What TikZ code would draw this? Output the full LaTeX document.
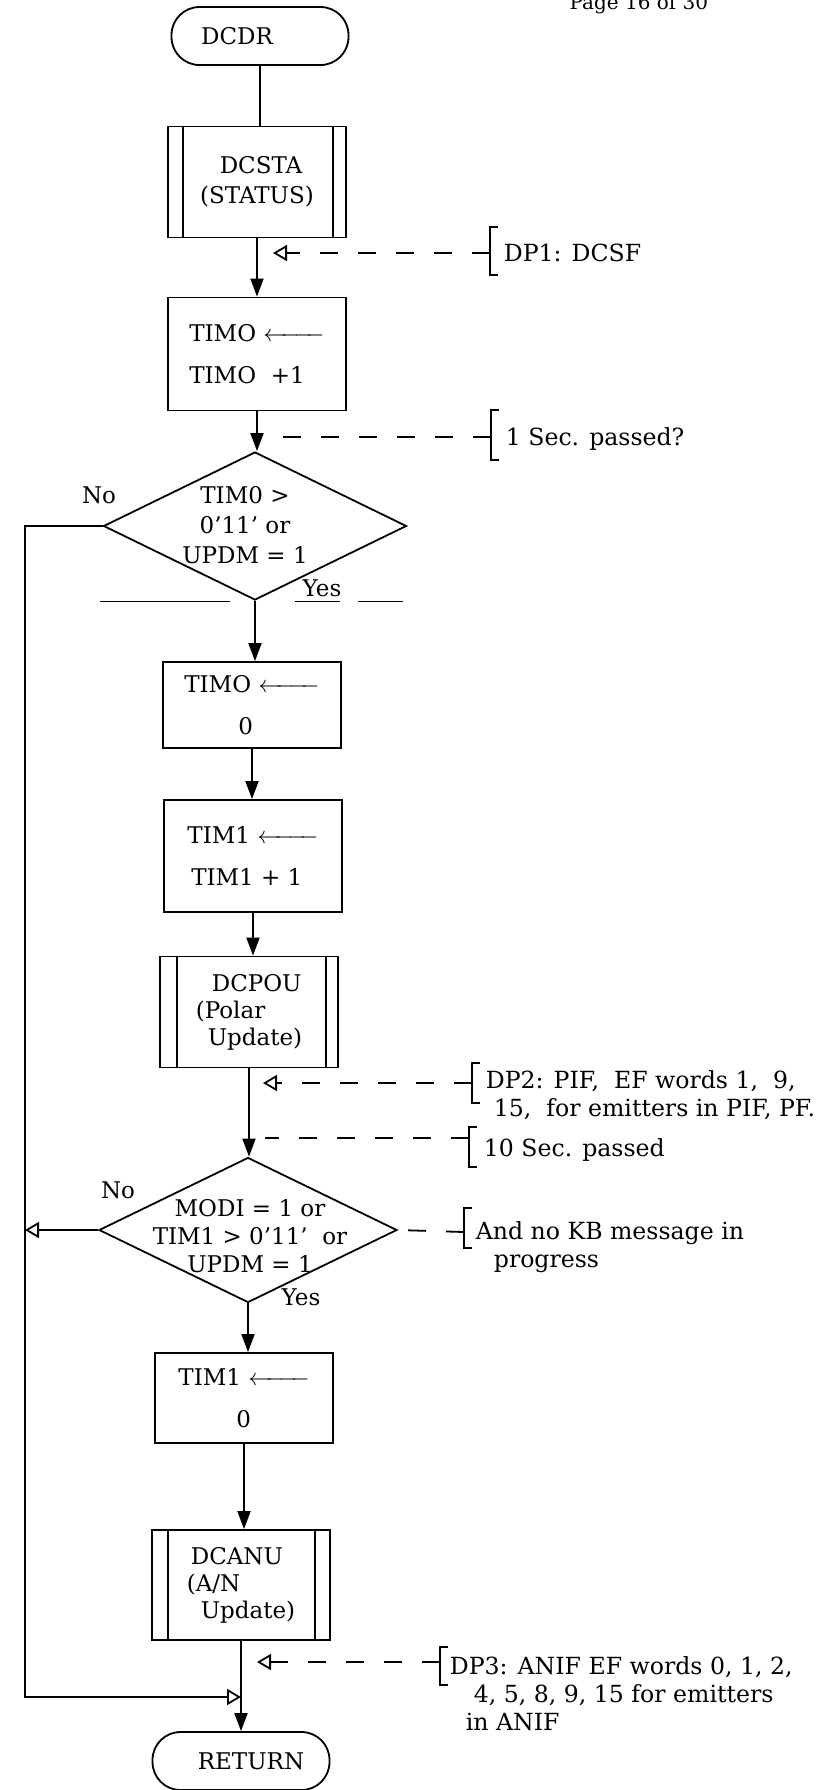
\documentclass[tikz,border=0pt]{standalone}
\usepackage{mathtools}
\usepackage{fontspec}
\setmainfont{DejaVu Serif}
\usetikzlibrary{
    arrows.meta,
    shapes.geometric,
    calc
}
\tikzset{term/.style={draw, rounded corners=14pt, minimum width=88.5pt, minimum height=29pt, inner sep=0pt}}
\tikzset{proc/.style={draw, minimum width=89pt, inner sep=0pt, align=left}}
\tikzset{decis/.style={draw, diamond, inner sep=0pt}}
\tikzset{note/.style={anchor=base west, align=left, inner sep=0pt, font=\fontsize{11.8}{14}\selectfont}}
\tikzset{flow/.style={-{Triangle[length=9pt, width=6.5pt]}}}
\tikzset{hollow/.style={-{Triangle[open, length=7pt, width=8pt]}}}
\tikzset{dpline/.style={dash pattern=on 9pt off 10pt}}

\begin{document}
\begin{tikzpicture}[x=0.5pt, y=-0.5pt, line width=0.9pt, font=\fontsize{11.5}{15}\selectfont]
                        \useasboundingbox (0,0) rectangle (836,1790);

                        \node[anchor=base west, font=\fontsize{10}{12}\selectfont] (page) at (562,9) {Page 16 of 30};

                        % main column
                        \node[term] (start) at (260,36) {DCDR\hspace*{23pt}};
                        \node[proc, align=center, minimum height=55.5pt] (sta) at (257,182) {\hspace*{4pt}DCSTA\\(STATUS)};
                        \node[proc, minimum height=56.5pt] (inc0) at (257,354) {TIMO $\xleftarrow{\hspace{24pt}}$\\[6pt]TIMO\ \ +1};
                        \node[decis, minimum width=151.5pt, minimum height=74pt] (d1) at (255,526) {};
                        \node[align=center] (d1t) at (245,525) {TIM0 >\\0'11' or\\UPDM = 1};
                        \node[proc, minimum height=43pt] (clr0) at (252,705) {TIMO $\xleftarrow{\hspace{24pt}}$\\[6pt]\hspace*{27pt}0};
                        \node[proc, minimum height=56pt] (inc1) at (253,856) {TIM1 $\xleftarrow{\hspace{24pt}}$\\[6pt]\,TIM1 + 1};
                        \node[proc, minimum height=55.5pt, font=\fontsize{11.5}{13.5}\selectfont] (pou) at (249,1012) {\hspace*{8pt}DCPOU\\(Polar\\\hspace*{6pt}Update)};
                        \node[decis, minimum width=149pt, minimum height=72.5pt] (d2) at (248,1230) {};
                        \node[align=center, font=\fontsize{11.5}{14}\selectfont] (d2t) at (250,1236) {MODI = 1 or\\TIM1 > 0'11'\ \ or\\UPDM = 1};
                        \node[proc, minimum height=45pt] (clr1) at (244,1398) {TIM1 $\xleftarrow{\hspace{24pt}}$\\[6pt]\hspace*{29pt}0};
                        \node[proc, minimum height=55pt, font=\fontsize{11.5}{13.5}\selectfont] (anu) at (241,1585) {\hspace*{2pt}DCANU\\(A/N\\\hspace*{7pt}Update)};
                        \node[term] (ret) at (241,1761) {\hspace*{10pt}RETURN};

                        % subroutine bars
                        \draw ([xshift=8pt]sta.north west) -- ([xshift=8pt]sta.south west);
                        \draw ([xshift=-7pt]sta.north east) -- ([xshift=-7pt]sta.south east);
                        \draw ([xshift=9pt]pou.north west) -- ([xshift=9pt]pou.south west);
                        \draw ([xshift=-6.5pt]pou.north east) -- ([xshift=-6.5pt]pou.south east);
                        \draw ([xshift=8.5pt]anu.north west) -- ([xshift=8.5pt]anu.south west);
                        \draw ([xshift=-8pt]anu.north east) -- ([xshift=-8pt]anu.south east);

                        % labels
                        \node (no1) at (99,495) {No};
                        \node (yes1) at (322,588) {Yes};
                        \node (no2) at (118,1190) {No};
                        \node (yes2) at (301,1297) {Yes};
                        \draw[line width=0.5pt] (100,601) -- (230,601) (295,601) -- (340,601) (358,601) -- (403,601);

                        % flow
                        \draw (start.south) -- (start.south |- sta.north);
                        \draw[flow] (sta.south) -- (sta.south |- inc0.north);
                        \draw[flow] (inc0.south) -- (inc0.south |- d1.north);
                        \draw[flow] (d1.south) -- (d1.south |- clr0.north);
                        \draw[flow] (clr0.south) -- (clr0.south |- inc1.north);
                        \draw[flow] (inc1.south) -- (inc1.south |- pou.north);
                        \draw[flow] (pou.south) -- (pou.south |- d2.north);
                        \draw[flow] (d2.south) -- (d2.south |- clr1.north);
                        \draw[flow] (clr1.south) -- (clr1.south |- anu.north);
                        \draw[flow] (anu.south) -- (anu.south |- ret.north);

                        % no branches
                        \coordinate (rail) at (25,1697);
                        \coordinate (j) at (anu.south |- rail);
                        \draw[hollow] (d1.west) -- (d1.west -| rail) -- (rail) -- (j);
                        \draw[hollow] (d2.west) -- (d2.west -| rail);

                        % DP1
                        \coordinate (b1) at (490,253);
                        \coordinate (t1) at (273,253);
                        \draw[dpline, hollow] (b1) -- (t1);
                        \draw (498,227) -- (490,227) -- (490,275) -- (498,275);
                        \node[note] (dp1) at (503,261) {DP1: DCSF};

                        % 1 sec
                        \coordinate (b2) at (491,437);
                        \coordinate (t2) at (264,437);
                        \draw[dpline] (b2) -- (t2);
                        \draw (499,410) -- (491,410) -- (491,460) -- (499,460);
                        \node[note] (sec1) at (505,445) {1 Sec. passed?};

                        % DP2 (base = last line)
                        \coordinate (b3) at (472,1083);
                        \coordinate (t3) at (263,1083);
                        \draw[dpline, hollow] (b3) -- (t3);
                        \draw (480,1063) -- (472,1063) -- (472,1103) -- (480,1103);
                        \node[note] (dp2) at (485,1116) {DP2: PIF,\ \ EF words 1,\ \ 9,\\\hspace*{4pt}15,\ \ for emitters in PIF, PF.};

                        % 10 sec
                        \coordinate (b4) at (469,1138);
                        \coordinate (t4) at (265,1138);
                        \draw[dpline] (b4) -- (t4);
                        \draw (477,1127) -- (469,1127) -- (469,1167) -- (477,1167);
                        \node[note] (sec10) at (483,1156) {10 Sec. passed};

                        % KB
                        \coordinate (b5) at (464,1232);
                        \draw[dpline] (b5) -- (d2.east);
                        \draw (472,1208) -- (464,1208) -- (464,1248) -- (472,1248);
                        \node[note] (kb) at (475,1267) {And no KB message in\\\hspace*{9pt}progress};

                        % DP3
                        \coordinate (b6) at (440,1662);
                        \coordinate (t6) at (257,1662);
                        \draw[dpline, hollow] (b6) -- (t6);
                        \draw (448,1647) -- (440,1647) -- (440,1685) -- (448,1685);
                        \node[note] (dp3) at (449,1730) {DP3: ANIF EF words 0, 1, 2,\\\hspace*{12pt}4, 5, 8, 9, 15 for emitters\\\hspace*{8pt}in ANIF};
                    \end{tikzpicture}
\end{document}
